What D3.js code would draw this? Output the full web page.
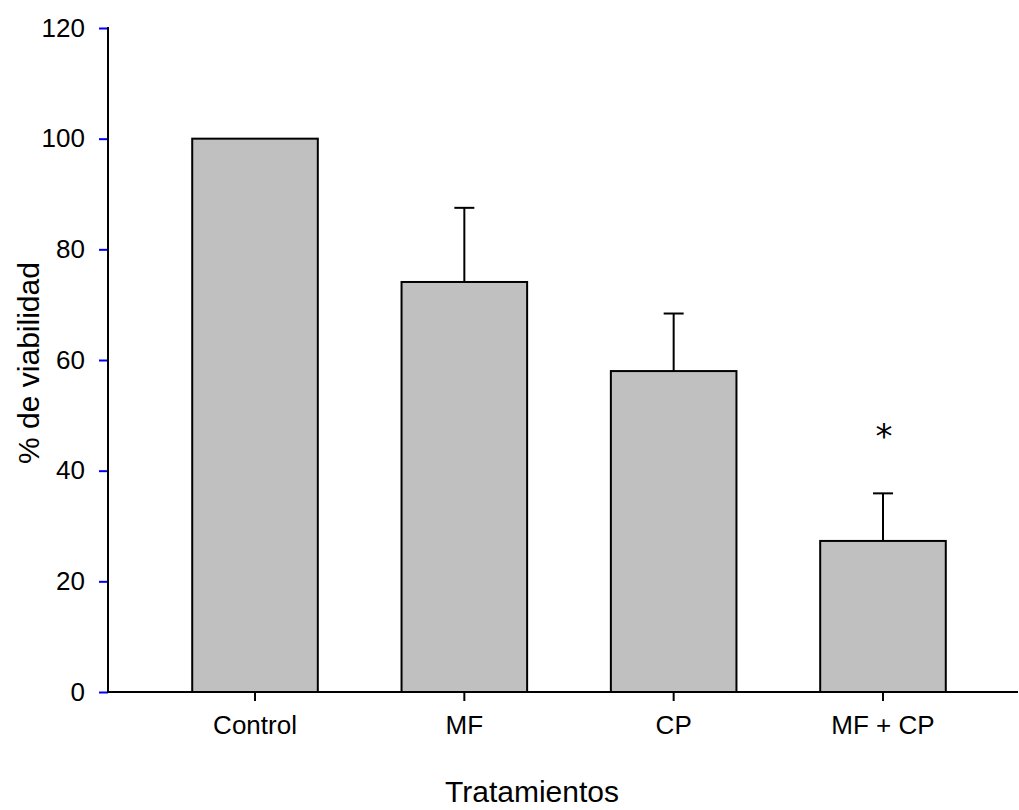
<!DOCTYPE html>
<html><head><meta charset="utf-8">
<script src="https://cdn.jsdelivr.net/npm/d3@7"></script>
<style>body{margin:0;background:#fff}svg{display:block;font-family:"Liberation Sans",Arial,sans-serif}</style>
</head><body><svg id="c" width="1019" height="810"></svg>
<script>
const categories = ["Control", "MF", "CP", "MF + CP"];
const means = [100, 74.1, 58, 27.3];
const upperErr = [null, 87.5, 68.4, 35.9];
const significance = ["", "", "", "*"];
const yTicks = [0, 20, 40, 60, 80, 100, 120];

const svg = d3.select("#c");
const x0 = 108, xEnd = 1018, y0 = 692, yTop = 28;
const x = d3.scaleBand().domain(categories).range([150.35, 987.65]).paddingInner(0.4).paddingOuter(0.2);
const y = d3.scaleLinear().domain([0, 120]).range([y0, yTop]);

// bars
svg.append("g").selectAll("rect").data(categories).join("rect")
  .attr("x", d => x(d)).attr("y", (d,i) => y(means[i]))
  .attr("width", x.bandwidth()).attr("height", (d,i) => y0 - y(means[i]))
  .attr("fill", "#c0c0c0").attr("stroke", "#000").attr("stroke-width", 2);

// error bars
const eg = svg.append("g").attr("stroke", "#000").attr("stroke-width", 2);
categories.forEach((c, i) => {
  if (upperErr[i] == null) return;
  const cx = x(c) + x.bandwidth() / 2;
  eg.append("line").attr("x1", cx).attr("x2", cx).attr("y1", y(means[i])).attr("y2", y(upperErr[i]));
  eg.append("line").attr("x1", cx - 10).attr("x2", cx + 10).attr("y1", y(upperErr[i])).attr("y2", y(upperErr[i]));
});

// significance
categories.forEach((c, i) => {
  if (!significance[i]) return;
  svg.append("text").attr("x", x(c) + x.bandwidth() / 2 + 1).attr("y", y(upperErr[i]) - 45)
    .attr("text-anchor", "middle").attr("font-size", 34).attr("font-family", "DejaVu Sans")
    .text(significance[i]);
});

// y axis
const ya = svg.append("g").attr("transform", `translate(${x0},0)`)
  .call(d3.axisLeft(y).tickValues(yTicks).tickSize(9).tickPadding(14).tickSizeOuter(0));
ya.select(".domain").remove();
ya.selectAll(".tick line").attr("stroke", "#0000ff").attr("stroke-width", 2);
ya.selectAll(".tick text").attr("font-size", 26).attr("fill", "#000").attr("font-family", "Liberation Sans, Arial, sans-serif");
svg.append("line").attr("x1", x0).attr("x2", x0).attr("y1", yTop - 1).attr("y2", y0 + 1).attr("stroke", "#000").attr("stroke-width", 2);

// x axis
const xa = svg.append("g").attr("transform", `translate(0,${y0})`)
  .call(d3.axisBottom(x).tickSize(9).tickPadding(15).tickSizeOuter(0));
xa.select(".domain").remove();
xa.selectAll(".tick line").attr("stroke", "#000").attr("stroke-width", 2);
xa.selectAll(".tick text").attr("font-size", 26).attr("fill", "#000").attr("font-family", "Liberation Sans, Arial, sans-serif");
svg.append("line").attr("x1", x0 - 1).attr("x2", xEnd).attr("y1", y0).attr("y2", y0).attr("stroke", "#000").attr("stroke-width", 2);

// titles
svg.append("text").attr("x", 532).attr("y", 802).attr("text-anchor", "middle").attr("font-size", 30).text("Tratamientos");
svg.append("text").attr("transform", "translate(39,363) rotate(-90)").attr("text-anchor", "middle").attr("font-size", 30).text("% de viabilidad");
</script></body></html>
